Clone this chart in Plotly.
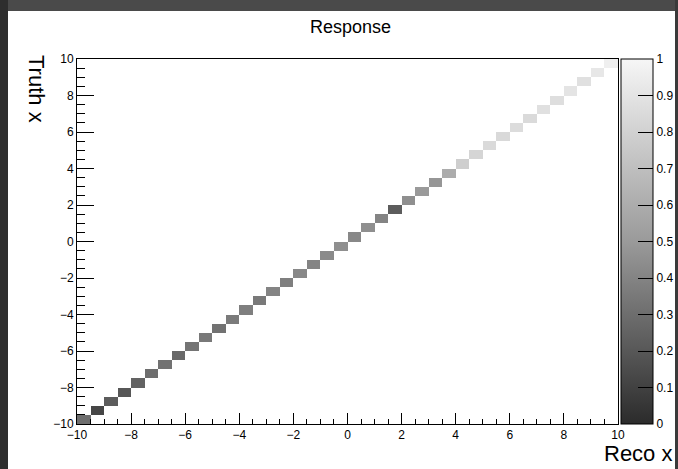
import numpy as np
import plotly.graph_objects as go

# Bin centres (reco x and truth x share the same binning, 40 bins from -10 to 10)
bin_centres = [-9.75 + 0.5 * i for i in range(40)]
# Diagonal response values (truth bin == reco bin)
diag_values = [0.30, 0.12, 0.22, 0.20, 0.25, 0.30, 0.32, 0.28, 0.33, 0.35,
               0.32, 0.36, 0.38, 0.35, 0.40, 0.38, 0.42, 0.40, 0.43, 0.45,
               0.42, 0.45, 0.40, 0.22, 0.45, 0.50, 0.48, 0.60, 0.78, 0.82,
               0.85, 0.84, 0.86, 0.85, 0.88, 0.87, 0.90, 0.88, 0.92, 0.96]
colorbar_ticks = [0, 0.1, 0.2, 0.3, 0.4, 0.5, 0.6, 0.7, 0.8, 0.9, 1]
axis_ticks = [-10, -8, -6, -4, -2, 0, 2, 4, 6, 8, 10]

n = len(bin_centres)
z = np.full((n, n), np.nan)
for i, v in enumerate(diag_values):
    z[i, i] = v
z_list = [[None if np.isnan(c) else float(c) for c in row] for row in z]

font = "Liberation Sans, Arial, Helvetica, sans-serif"

fig = go.Figure()
fig.add_trace(go.Heatmap(
    x=bin_centres, y=bin_centres, z=z_list,
    zmin=0, zmax=1,
    colorscale=[[0, "#2b2b2b"], [0.5, "#9a9a9a"], [1, "#f6f6f6"]],
    hoverongaps=False,
    colorbar=dict(
        x=1.0055, xanchor="left", xref="paper",
        y=0.5, yanchor="middle", len=1.0, lenmode="fraction",
        thickness=32, thicknessmode="pixels",
        outlinewidth=1, outlinecolor="black",
        tickmode="array", tickvals=colorbar_ticks,
        ticktext=[str(t) for t in colorbar_ticks],
        ticks="inside", ticklen=15, tickcolor="black",
        tickfont=dict(family=font, size=12, color="black"),
        xpad=0, ypad=0,
    ),
))

common = dict(
    range=[-10, 10], showgrid=False, zeroline=False,
    showline=True, linecolor="black", linewidth=1, mirror=True,
    ticks="inside", tickcolor="black",
    tickmode="array", tickvals=axis_ticks,
    ticktext=[str(t).replace("-", "\u2212") for t in axis_ticks],
    tickfont=dict(family=font, size=12, color="black"),
    automargin=False,
)
fig.update_xaxes(**common, ticklen=11,
                 minor=dict(ticks="inside", dtick=0.5, tick0=-10, ticklen=5,
                            tickcolor="black", showgrid=False))
fig.update_yaxes(**common, ticklen=17,
                 minor=dict(ticks="inside", dtick=0.5, tick0=-10, ticklen=8,
                            tickcolor="black", showgrid=False))

fig.update_layout(
    width=678, height=469,
    margin=dict(l=77, r=60, t=59, b=45, autoexpand=False),
    paper_bgcolor="white", plot_bgcolor="white",
    showlegend=False,
    annotations=[
        dict(text="Response", xref="paper", yref="paper",
             x=0.505, y=1 + (59 - 27) / 365, xanchor="center", yanchor="middle",
             showarrow=False, font=dict(family=font, size=18, color="black")),
        dict(text="Truth x", xref="paper", yref="paper",
             x=(37 - 77) / 541, y=1 + (59 - 53) / 365,
             xanchor="center", yanchor="top", textangle=90,
             showarrow=False, font=dict(family=font, size=22, color="black")),
        dict(text="Reco x", xref="paper", yref="paper",
             x=(674 - 77) / 541, y=-(454 - 424) / 365,
             xanchor="right", yanchor="middle",
             showarrow=False, font=dict(family=font, size=22, color="black")),
    ],
    shapes=[
        dict(type="rect", xref="paper", yref="paper", layer="below",
             x0=-77 / 541, x1=(678 - 77) / 541,
             y0=1 + 48 / 365, y1=1 + 59 / 365,
             fillcolor="#4a4a4a", line=dict(width=0)),
        dict(type="rect", xref="paper", yref="paper", layer="below",
             x0=-77 / 541, x1=-69 / 541,
             y0=-45 / 365, y1=1 + 59 / 365,
             fillcolor="#2e2e2e", line=dict(width=0)),
        dict(type="rect", xref="paper", yref="paper", layer="below",
             x0=(675 - 77) / 541, x1=(678 - 77) / 541,
             y0=-45 / 365, y1=1 + 59 / 365,
             fillcolor="#3a3a3a", line=dict(width=0)),
    ],
)

fig.write_html(
    "out.html",
    config={"displayModeBar": False},
    post_script="document.body.style.margin='0px';document.body.style.overflow='hidden';",
)
